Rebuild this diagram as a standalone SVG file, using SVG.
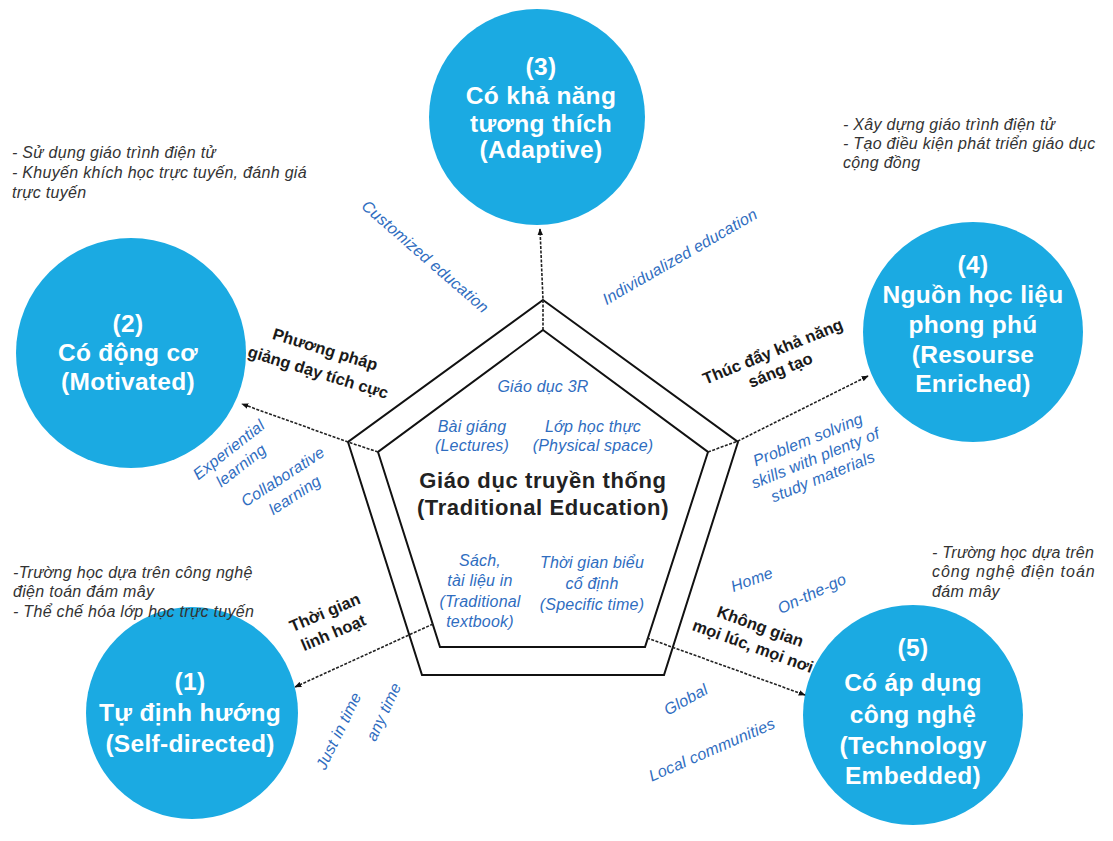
<svg xmlns="http://www.w3.org/2000/svg" width="1113" height="841" viewBox="0 0 1113 841">
  <defs>
    <style>
      .circ { fill: #1BAAE2; }
      .ct { fill: #ffffff; font-family: "Liberation Sans", Arial, sans-serif; font-weight: bold; font-size: 24.5px; text-anchor: middle; letter-spacing: 0.3px; }
      .blue { fill: #2F6DBF; font-family: "Liberation Sans", Arial, sans-serif; font-style: italic; font-size: 16px; text-anchor: middle; letter-spacing: 0.2px; }
      .lbl { fill: #1a1a1a; font-family: "Liberation Sans", Arial, sans-serif; font-weight: bold; font-size: 16.5px; text-anchor: middle; }
      .note { fill: #333333; font-family: "Liberation Sans", Arial, sans-serif; font-style: italic; font-size: 16px; letter-spacing: 0.3px; }
      .core { fill: #222222; font-family: "Liberation Sans", Arial, sans-serif; font-weight: bold; font-size: 22px; text-anchor: middle; letter-spacing: 0.6px; }
      .edge { fill: none; stroke: #111111; stroke-width: 2; stroke-linejoin: miter; }
      .arrow { fill: none; stroke: #222222; stroke-width: 1.6; stroke-dasharray: 3 1.5; marker-end: url(#head); }
    </style>
    <marker id="head" viewBox="0 0 10 10" refX="9" refY="5" markerWidth="7" markerHeight="7" orient="auto" markerUnits="userSpaceOnUse">
      <path d="M0,1 L10,5 L0,9 Z" fill="#111111"/>
    </marker>
  </defs>

  <rect width="1113" height="841" fill="#ffffff"/>

  <!-- central pentagon: traditional education -->
  <g id="core">
    <polygon class="edge" points="543,300 738,442 664,675 422,675 348,442"/>
    <polygon class="edge" points="543,330 708,452 645,647 440,647 378,452"/>
    <text class="blue" x="543" y="392">Giáo dục 3R</text>
    <text class="blue" x="472" y="432">Bài giáng</text>
    <text class="blue" x="472" y="451">(Lectures)</text>
    <text class="blue" x="593" y="432">Lớp học thực</text>
    <text class="blue" x="593" y="451">(Physical space)</text>
    <text class="core" x="543" y="488">Giáo dục truyền thống</text>
    <text class="core" x="543" y="515">(Traditional Education)</text>
    <text class="blue" x="480" y="566">Sách,</text>
    <text class="blue" x="480" y="586">tài liệu in</text>
    <text class="blue" x="480" y="607">(Traditional</text>
    <text class="blue" x="480" y="627">textbook)</text>
    <text class="blue" x="592" y="568">Thời gian biểu</text>
    <text class="blue" x="592" y="589">cố định</text>
    <text class="blue" x="592" y="610">(Specific time)</text>
  </g>

  <!-- (3) adaptive -->
  <g id="node3">
    <circle class="circ" cx="537" cy="117" r="108"/>
    <text class="ct" x="541" y="75">(3)</text>
    <text class="ct" x="541" y="104">Có khả năng</text>
    <text class="ct" x="541" y="132">tương thích</text>
    <text class="ct" x="541" y="158">(Adaptive)</text>
  </g>

  <!-- (2) motivated -->
  <g id="node2">
    <circle class="circ" cx="131" cy="353" r="115"/>
    <text class="ct" x="128" y="332">(2)</text>
    <text class="ct" x="128" y="361">Có động cơ</text>
    <text class="ct" x="128" y="390">(Motivated)</text>
  </g>

  <!-- (4) resource enriched -->
  <g id="node4">
    <circle class="circ" cx="973" cy="332" r="110"/>
    <text class="ct" x="973" y="273">(4)</text>
    <text class="ct" x="973" y="303">Nguồn học liệu</text>
    <text class="ct" x="973" y="333">phong phú</text>
    <text class="ct" x="973" y="363">(Resourse</text>
    <text class="ct" x="973" y="392">Enriched)</text>
  </g>

  <!-- (1) self-directed -->
  <g id="node1">
    <circle class="circ" cx="192" cy="713" r="106"/>
    <text class="ct" x="190" y="690">(1)</text>
    <text class="ct" x="190" y="721">Tự định hướng</text>
    <text class="ct" x="190" y="752">(Self-directed)</text>
  </g>

  <!-- (5) technology embedded -->
  <g id="node5">
    <circle class="circ" cx="913" cy="715" r="110"/>
    <text class="ct" x="913" y="656">(5)</text>
    <text class="ct" x="913" y="691">Có áp dụng</text>
    <text class="ct" x="913" y="723">công nghệ</text>
    <text class="ct" x="913" y="754">(Technology</text>
    <text class="ct" x="913" y="784">Embedded)</text>
  </g>

  <!-- connectors: pentagon corners out to the five qualities -->
  <g id="connectors">
    <polyline class="arrow" points="543,330 543,300 540,229"/>
    <polyline class="arrow" points="378,452 348,442 242,404"/>
    <polyline class="arrow" points="708,452 738,441 868,376"/>
    <line class="arrow" x1="433" y1="624" x2="295" y2="687"/>
    <line class="arrow" x1="647" y1="638" x2="805" y2="695"/>
  </g>

  <!-- edge labels -->
  <g id="labels">
    <text class="blue" transform="translate(425,257) rotate(41)" y="5">Customized education</text>
    <text class="blue" transform="translate(680,257) rotate(-30)" y="5">Individualized education</text>
    <g transform="translate(229,450) rotate(-38)">
      <text class="blue" y="5">Experiential</text>
      <text class="blue" y="25">learning</text>
    </g>
    <g transform="translate(283,477) rotate(-33)">
      <text class="blue" y="5">Collaborative</text>
      <text class="blue" y="27">learning</text>
    </g>
    <g transform="translate(808,440) rotate(-22)">
      <text class="blue" y="5">Problem solving</text>
      <text class="blue" y="25">skills with plenty of</text>
      <text class="blue" y="45">study materials</text>
    </g>
    <text class="blue" transform="translate(752,580) rotate(-20)" y="5">Home</text>
    <text class="blue" transform="translate(812,594) rotate(-25)" y="5">On-the-go</text>
    <text class="blue" transform="translate(686,700) rotate(-29)" y="5">Global</text>
    <text class="blue" transform="translate(712,750) rotate(-23.5)" y="5">Local communities</text>
    <text class="blue" transform="translate(339,731) rotate(-64)" y="5">Just in time</text>
    <text class="blue" transform="translate(384,712) rotate(-65)" y="5">any time</text>

    <g transform="translate(325,350) rotate(17)">
      <text class="lbl" y="5">Phương pháp</text>
      <text class="lbl" y="29">giảng dạy tích cực</text>
    </g>
    <g transform="translate(773,352) rotate(-22)">
      <text class="lbl" y="5">Thúc đẩy khả năng</text>
      <text class="lbl" y="25">sáng tạo</text>
    </g>
    <g transform="translate(325,613) rotate(-23)">
      <text class="lbl" y="5">Thời gian</text>
      <text class="lbl" y="27">linh hoạt</text>
    </g>
    <g transform="translate(760,627) rotate(20)">
      <text class="lbl" y="5">Không gian</text>
      <text class="lbl" y="26">mọi lúc, mọi nơi</text>
    </g>
  </g>

  <!-- side notes -->
  <g id="notes">
    <text class="note" x="12" y="158">- Sử dụng giáo trình điện tử</text>
    <text class="note" x="12" y="178">- Khuyến khích học trực tuyến, đánh giá</text>
    <text class="note" x="12" y="198">trực tuyến</text>

    <text class="note" x="843" y="130">- Xây dựng giáo trình điện tử</text>
    <text class="note" x="843" y="149">- Tạo điều kiện phát triển giáo dục</text>
    <text class="note" x="843" y="168">cộng đồng</text>

    <text class="note" x="13" y="578">-Trường học dựa trên công nghệ</text>
    <text class="note" x="13" y="597">điện toán đám mây</text>
    <text class="note" x="13" y="617">- Thể chế hóa lớp học trực tuyến</text>

    <text class="note" x="932" y="558">- Trường học dựa trên</text>
    <text class="note" x="932" y="577" textLength="163" lengthAdjust="spacing">công nghệ điện toán</text>
    <text class="note" x="932" y="597">đám mây</text>
  </g>
</svg>
